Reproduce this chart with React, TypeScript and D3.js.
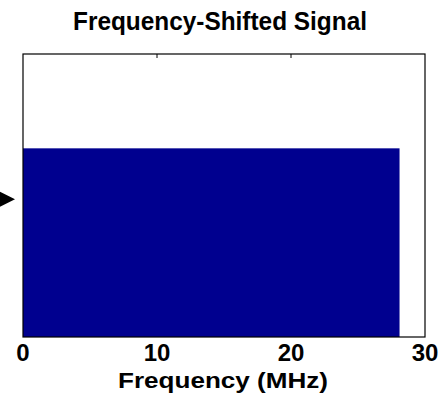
import React from "react";
import * as d3 from "d3";

const title = "Frequency-Shifted Signal";
const xLabel = "Frequency (MHz)";
const xTicks = [0, 10, 20, 30];
const xDomain = [0, 30];
const yDomain = [0, 1.5];
// band occupied by the shifted signal: [start MHz, end MHz, amplitude]
const bandStart = [0];
const bandEnd = [28.1];
const bandAmp = [1];
const markerLevel = [0.73];

const W = 442;
const H = 400;
const left = 23;
const right = 425;
const top = 54;
const bottom = 337;

export default function App() {
  const x = d3.scaleLinear().domain(xDomain).range([left, right]);
  const y = d3.scaleLinear().domain(yDomain).range([bottom, top]);
  const font = "'Liberation Sans', Arial, Helvetica, sans-serif";
  const my = y(markerLevel[0]);
  const tri = d3.line()([
    [0, my - 7.5],
    [15, my],
    [0, my + 7.5],
  ]) + "Z";
  return (
    <svg
      width={W}
      height={H}
      style={{ position: "absolute", left: 0, top: 0, background: "#fff" }}
    >
      <rect x={0} y={0} width={W} height={H} fill="#fff" />
      {bandStart.map((s, i) => (
        <rect
          key={i}
          x={x(s)}
          y={y(bandAmp[i])}
          width={x(bandEnd[i]) - x(s)}
          height={y(0) - y(bandAmp[i])}
          fill="#00008F"
        />
      ))}
      <rect
        x={left}
        y={top}
        width={right - left}
        height={bottom - top}
        fill="none"
        stroke="#000"
        strokeWidth={1.2}
      />
      {xTicks.slice(1, -1).map((t) => (
        <line
          key={t}
          x1={x(t)}
          x2={x(t)}
          y1={top}
          y2={top + 4}
          stroke="#000"
          strokeWidth={1}
        />
      ))}
      <path d={tri} fill="#000" />
      {xTicks.map((t) => (
        <text
          key={t}
          x={x(t)}
          y={361}
          textAnchor="middle"
          fontFamily={font}
          fontWeight="bold"
          fontSize={24}
          fill="#000"
        >
          {t}
        </text>
      ))}
      <text
        x={223}
        y={388}
        textAnchor="middle"
        fontFamily={font}
        fontWeight="bold"
        fontSize={22.5}
        textLength={210}
        lengthAdjust="spacingAndGlyphs"
        fill="#000"
      >
        {xLabel}
      </text>
      <text
        x={220}
        y={30}
        textAnchor="middle"
        fontFamily={font}
        fontWeight="bold"
        fontSize={25}
        textLength={294}
        lengthAdjust="spacingAndGlyphs"
        fill="#000"
      >
        {title}
      </text>
    </svg>
  );
}
